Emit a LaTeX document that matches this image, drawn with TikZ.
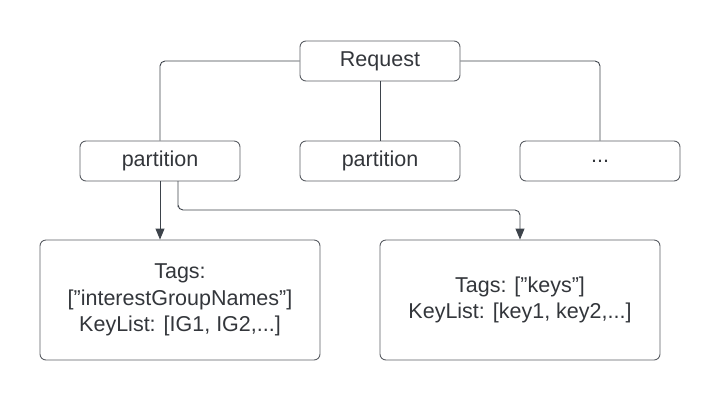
\documentclass[tikz,border=0pt]{standalone}
\usepackage{fontspec}
\setmainfont{Liberation Sans}
\usetikzlibrary{arrows.meta}
\definecolor{boxline}{HTML}{5A5E64}
\definecolor{wire}{HTML}{3D434B}
\definecolor{ink}{HTML}{33363B}
\newcommand{\dq}{\symbol{34}}
\tikzset{
  box/.style={draw=boxline, line width=0.9pt, rounded corners=6pt, text=ink,
    font=\fontsize{21.5}{26.5}\selectfont, align=center},
  small/.style={box, minimum width=160pt, minimum height=40pt},
  big/.style={box, minimum width=280pt, minimum height=120pt},
  wire/.style={draw=wire, line width=0.9pt, rounded corners=5pt},
  arr/.style={wire, -{Triangle[width=9pt,length=11pt]}}
}
\begin{document}
\begin{tikzpicture}[x=1pt, y=-1pt]
  \useasboundingbox (0,0) rectangle (720,400);
  \node[small] (req) at (380, 61) {Request};
  \node[small] (parta) at (160, 161) {partition};
  \node[small] (partb) at (380, 161) {partition};
  \node[small] (more) at (600, 161) {...};
  \node[big] (igbox) at (180, 300) {Tags:\\{[}\dq interestGroupNames\dq{]}\\KeyList: [IG1, IG2,...]};
  \node[big] (keybox) at (520, 300) {Tags: {[}\dq keys\dq{]}\\KeyList: [key1, key2,...]};
  \coordinate (split) at (178, 181);
  \draw[wire] (req.west) -| (parta.north);
  \draw[wire] (req.south) -- (partb.north);
  \draw[wire] (req.east) -| (more.north);
  \draw[arr] (parta.south) -- (parta.south |- igbox.north);
  \draw[arr] (split) |- ++(0,29) -| (keybox.north);
\end{tikzpicture}
\end{document}
